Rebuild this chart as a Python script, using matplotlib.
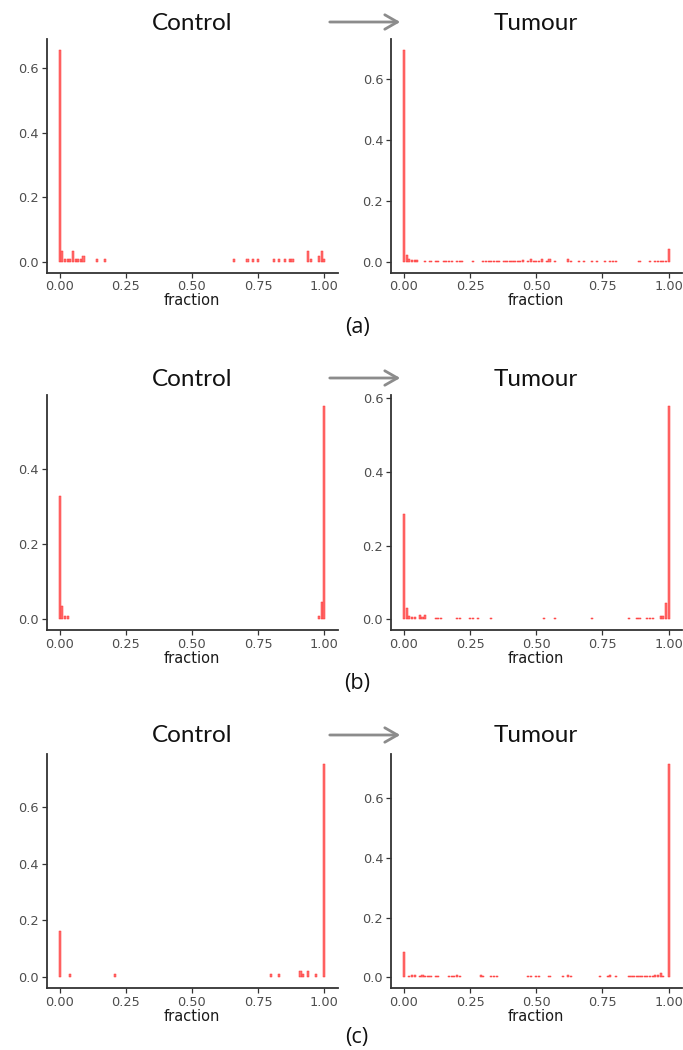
import matplotlib
matplotlib.use("Agg")
import matplotlib.pyplot as plt
import numpy as np

# ---------------- data (bin centre, bin proportion) ----------------
a_control_x = [0.00, 0.01, 0.02, 0.03, 0.04, 0.05, 0.06, 0.07, 0.08, 0.09, 0.14, 0.17,
               0.66, 0.71, 0.73, 0.75, 0.81, 0.83, 0.85, 0.87, 0.88, 0.94, 0.95, 0.98, 0.99, 1.00]
a_control_y = [0.656, 0.035, 0.009, 0.009, 0.009, 0.035, 0.009, 0.009, 0.009, 0.017, 0.009, 0.009,
               0.009, 0.009, 0.009, 0.009, 0.009, 0.009, 0.009, 0.009, 0.009, 0.035, 0.009, 0.017, 0.035, 0.009]

a_tumour_x = [0.00, 0.01, 0.02, 0.03, 0.04, 0.05, 0.08, 0.10, 0.12, 0.13, 0.15, 0.16, 0.17, 0.18,
              0.20, 0.21, 0.22, 0.26, 0.30, 0.31, 0.32, 0.33, 0.34, 0.35, 0.36,
              0.38, 0.39, 0.40, 0.41, 0.42, 0.43, 0.44, 0.45, 0.47, 0.48, 0.49, 0.50, 0.51, 0.52,
              0.54, 0.55, 0.57, 0.62, 0.63, 0.66, 0.68, 0.71, 0.73, 0.76, 0.78, 0.79, 0.80,
              0.89, 0.93, 0.95, 0.96, 0.97, 0.98, 0.99, 1.00]
a_tumour_y = [0.695, 0.023, 0.008, 0.005, 0.005, 0.005, 0.004, 0.004, 0.004, 0.004, 0.004, 0.004, 0.004, 0.004,
              0.004, 0.004, 0.004, 0.004, 0.004, 0.004, 0.004, 0.004, 0.004, 0.004, 0.004,
              0.004, 0.004, 0.004, 0.004, 0.004, 0.004, 0.004, 0.006, 0.004, 0.011, 0.004, 0.004, 0.004, 0.008,
              0.004, 0.010, 0.004, 0.011, 0.004, 0.004, 0.004, 0.004, 0.004, 0.004, 0.004, 0.004, 0.004,
              0.004, 0.004, 0.004, 0.004, 0.004, 0.004, 0.004, 0.043]

b_control_x = [0.00, 0.01, 0.02, 0.03, 0.98, 0.99, 1.00]
b_control_y = [0.327, 0.035, 0.009, 0.009, 0.009, 0.045, 0.567]

b_tumour_x = [0.00, 0.01, 0.02, 0.03, 0.04, 0.06, 0.07, 0.08, 0.12, 0.13, 0.14, 0.20, 0.21,
              0.25, 0.26, 0.28, 0.33, 0.53, 0.57, 0.71, 0.85, 0.88, 0.89, 0.92, 0.93, 0.94,
              0.97, 0.98, 0.99, 1.00]
b_tumour_y = [0.285, 0.032, 0.008, 0.005, 0.005, 0.012, 0.005, 0.012, 0.004, 0.004, 0.004, 0.004, 0.004,
              0.004, 0.004, 0.004, 0.004, 0.004, 0.004, 0.004, 0.004, 0.004, 0.004, 0.004, 0.004, 0.004,
              0.008, 0.008, 0.043, 0.579]

c_control_x = [0.00, 0.04, 0.21, 0.80, 0.83, 0.91, 0.92, 0.94, 0.97, 1.00]
c_control_y = [0.163, 0.010, 0.010, 0.010, 0.010, 0.021, 0.010, 0.021, 0.010, 0.750]

c_tumour_x = [0.00, 0.02, 0.03, 0.04, 0.06, 0.07, 0.08, 0.09, 0.10, 0.12, 0.13, 0.17, 0.18, 0.19,
              0.20, 0.21, 0.29, 0.30, 0.33, 0.34, 0.35, 0.47, 0.48, 0.50, 0.51, 0.55, 0.60,
              0.62, 0.63, 0.74, 0.77, 0.78, 0.80, 0.85, 0.86, 0.87, 0.88, 0.89, 0.90, 0.91,
              0.92, 0.93, 0.94, 0.95, 0.96, 0.97, 0.98, 1.00]
c_tumour_y = [0.086, 0.005, 0.009, 0.009, 0.005, 0.009, 0.005, 0.005, 0.005, 0.005, 0.005, 0.005, 0.005, 0.005,
              0.009, 0.005, 0.009, 0.005, 0.005, 0.005, 0.005, 0.005, 0.005, 0.005, 0.005, 0.005, 0.005,
              0.009, 0.005, 0.005, 0.005, 0.009, 0.005, 0.005, 0.005, 0.005, 0.005, 0.005, 0.005, 0.005,
              0.005, 0.005, 0.005, 0.009, 0.009, 0.014, 0.005, 0.715]

x_ticks = [0.00, 0.25, 0.50, 0.75, 1.00]
x_tick_labels = ["0.00", "0.25", "0.50", "0.75", "1.00"]
y_ticks = [0.0, 0.2, 0.4, 0.6]
y_tick_labels = ["0.0", "0.2", "0.4", "0.6"]
titles = ["Control", "Tumour"]
row_labels = ["(a)", "(b)", "(c)"]
x_label = "fraction"

panels = [
    [(a_control_x, a_control_y), (a_tumour_x, a_tumour_y)],
    [(b_control_x, b_control_y), (b_tumour_x, b_tumour_y)],
    [(c_control_x, c_control_y), (c_tumour_x, c_tumour_y)],
]

# ---------------- layout (pixels) ----------------
W, H = 683, 1050
fig = plt.figure(figsize=(W / 100, H / 100), dpi=100)
fig.patch.set_facecolor("white")

col_left = [46.5, 390.8]
col_width = 291.0
row_box = [(39.5, 272.5), (395.0, 630.0), (753.5, 988.0)]   # (top, bottom) px
title_y = [23, 379, 736]
label_y = [327, 683, 1037]

def px(x, y):
    return x / W, 1 - y / H

bar_w = 0.008
for r in range(3):
    top, bottom = row_box[r]
    for c in range(2):
        xs, ys = panels[r][c]
        ax = fig.add_axes([col_left[c] / W, 1 - bottom / H, col_width / W, (bottom - top) / H])
        ax.bar(xs, ys, width=bar_w, align="center", facecolor="#FF7070",
               edgecolor="#FF3030", linewidth=0.35)
        m = max(ys)
        ax.set_xlim(-0.05, 1.05)
        ax.set_ylim(-0.05 * m, 1.05 * m)
        ax.set_xticks(x_ticks)
        ax.set_xticklabels(x_tick_labels)
        yt = [t for t in y_ticks if t <= 1.05 * m + 1e-9]
        ax.set_yticks(yt)
        ax.set_yticklabels(y_tick_labels[:len(yt)])
        for s in ["top", "right"]:
            ax.spines[s].set_visible(False)
        for s in ["left", "bottom"]:
            ax.spines[s].set_color("#333333")
            ax.spines[s].set_linewidth(1.3)
        ax.tick_params(axis="both", colors="#333333", length=3.5, width=0.9,
                       labelsize=9.3, labelcolor="#4D4D4D", pad=2)
        ax.set_xlabel(x_label, fontsize=10.5, color="#1A1A1A", labelpad=0)
        ax.set_facecolor("white")

    # titles and arrow
    tx, ty = px(192, title_y[r])
    fig.text(tx, ty, titles[0], ha="center", va="center", fontsize=17.5,
             family="Lato", color="#111111")
    tx, ty = px(536, title_y[r])
    fig.text(tx, ty, titles[1], ha="center", va="center", fontsize=17.5,
             family="Lato", color="#111111")
    a0 = px(327, title_y[r] - 1)
    a1 = px(403, title_y[r] - 1)
    fig.add_artist(matplotlib.patches.FancyArrowPatch(
        a0, a1, transform=fig.transFigure, arrowstyle="->,head_length=7,head_width=4",
        color="#8C8C8C", linewidth=2.0, mutation_scale=1.3))

    lx, ly = px(357, label_y[r])
    fig.text(lx, ly, row_labels[r], ha="center", va="center", fontsize=15.5,
             family="Open Sans", color="#111111")

fig.savefig("out.png", dpi=100, facecolor="white")
